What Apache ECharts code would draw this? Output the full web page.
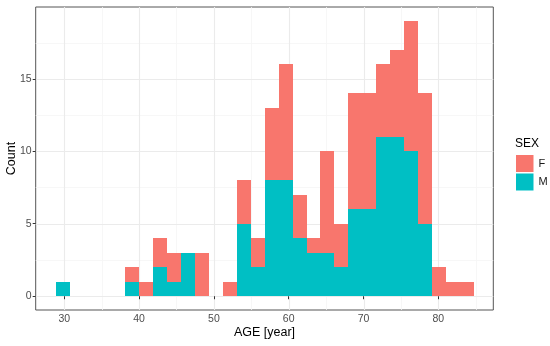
<!DOCTYPE html>
<html><head><meta charset="utf-8">
<script src="https://cdn.jsdelivr.net/npm/echarts@6/dist/echarts.min.js"></script>
<style>html,body{margin:0;padding:0;background:#fff}#c{width:550px;height:346px}</style>
</head><body><div id="c"></div>
<script>
// Histogram bin edges (AGE, years) – 30 bins
const binEdges = [28.86,30.72,32.58,34.45,36.31,38.17,40.03,41.89,43.76,45.62,47.48,49.34,51.20,53.07,54.93,56.79,58.65,60.52,62.38,64.24,66.10,67.96,69.83,71.69,73.55,75.41,77.28,79.14,81.00,82.86,84.72];
// Counts per bin
const countM = [1,0,0,0,0,1,0,2,1,3,0,0,0,5,2,8,8,4,3,3,2,6,6,11,11,10,5,0,0,0];
const countF = [0,0,0,0,0,1,1,2,2,0,3,0,1,3,2,5,8,3,1,7,3,8,8,5,6,9,9,2,1,1];
const xTicks = [30,40,50,60,70,80];
const xMinor = [35,45,55,65,75,85];
const yTicks = [0,5,10,15];
const yMinor = [2.5,7.5,12.5,17.5];
const seriesNames = ['F','M'];
const colF = '#F8766D', colM = '#00BFC4';

const X_MIN = 26.18, X_MAX = 87.35, Y_MIN = -0.95, Y_MAX = 19.95;

const mData = [], fData = [];
for (let i = 0; i < countM.length; i++) {
  if (countM[i] > 0) mData.push([binEdges[i], binEdges[i+1], 0, countM[i]]);
  if (countF[i] > 0) fData.push([binEdges[i], binEdges[i+1], countM[i], countM[i] + countF[i]]);
}
const gridData = [];
xMinor.forEach(v => gridData.push([0, v, 0]));
yMinor.forEach(v => gridData.push([1, v, 0]));
xTicks.forEach(v => gridData.push([0, v, 1]));
yTicks.forEach(v => gridData.push([1, v, 1]));

function rectItem(params, api) {
  const p0 = api.coord([api.value(0), api.value(2)]);
  const p1 = api.coord([api.value(1), api.value(3)]);
  const x0 = Math.round(p0[0]), x1 = Math.round(p1[0]);
  const yb = Math.round(p0[1]), yt = Math.round(p1[1]);
  return {
    type: 'rect',
    shape: { x: x0, y: yt, width: x1 - x0, height: yb - yt },
    style: api.style()
  };
}
function gridItem(params, api) {
  const cs = params.coordSys;
  const isY = api.value(0) === 1;
  const v = api.value(1);
  const major = api.value(2) === 1;
  let shape;
  if (isY) {
    const p = api.coord([X_MIN, v]);
    const y = Math.round(p[1]) + 0.5;
    shape = { x1: cs.x, y1: y, x2: cs.x + cs.width, y2: y };
  } else {
    const p = api.coord([v, Y_MIN]);
    const x = Math.round(p[0]) + 0.5;
    shape = { x1: x, y1: cs.y, x2: x, y2: cs.y + cs.height };
  }
  return { type: 'line', shape, style: { stroke: major ? '#EBEBEB' : '#F5F5F5', lineWidth: major ? 1.1 : 0.8 } };
}

const chart = echarts.init(document.getElementById('c'), null, { renderer: 'canvas' });
chart.setOption({
  animation: false,
  backgroundColor: '#fff',
  textStyle: { fontFamily: 'Liberation Sans, Arial, sans-serif' },
  title: { text: 'SEX', left: 510, top: 133, textStyle: { fontSize: 12, fontWeight: 'normal', color: '#000', fontFamily: 'Liberation Sans, Arial, sans-serif' } },
  legend: {
    data: seriesNames.map(n => ({ name: n, icon: 'rect' })),
    orient: 'vertical', left: 511, top: 150, itemWidth: 17.5, itemHeight: 17, itemGap: 1.5,
    textStyle: { fontSize: 11, color: '#1a1a1a' }, selectedMode: false
  },
  grid: { left: 35.7, right: 56.7, top: 7, bottom: 36, show: true, borderColor: '#555', borderWidth: 1, backgroundColor: '#fff', containLabel: false, outerBoundsMode: 'none' },
  xAxis: {
    type: 'value', min: X_MIN, max: X_MAX,
    name: 'AGE [year]', nameLocation: 'middle', nameGap: 16, nameMoveOverlap: false,
    nameTextStyle: { fontSize: 12.5, color: '#000', verticalAlign: 'top' },
    axisLine: { show: false },
    splitLine: { show: false },
    axisTick: { show: true, length: 3, lineStyle: { color: '#333' }, customValues: xTicks },
    axisLabel: { fontSize: 10.5, color: '#4D4D4D', margin: 4, customValues: xTicks, formatter: v => String(v) }
  },
  yAxis: {
    type: 'value', min: Y_MIN, max: Y_MAX,
    name: 'Count', nameLocation: 'middle', nameGap: 18, nameRotate: 90, nameMoveOverlap: false,
    nameTextStyle: { fontSize: 12.5, color: '#000' },
    axisLine: { show: false },
    splitLine: { show: false },
    axisTick: { show: true, length: 3, lineStyle: { color: '#333' }, customValues: yTicks },
    axisLabel: { fontSize: 10.5, color: '#4D4D4D', margin: 4, customValues: yTicks, formatter: v => String(v) }
  },
  series: [
    { name: 'grid', type: 'custom', renderItem: gridItem, data: gridData, silent: true, z: 0, encode: { x: 1, y: 1 }, clip: true },
    { name: 'M', type: 'custom', renderItem: rectItem, data: mData, itemStyle: { color: colM }, z: 2, encode: { x: [0, 1], y: [2, 3] } },
    { name: 'F', type: 'custom', renderItem: rectItem, data: fData, itemStyle: { color: colF }, z: 2, encode: { x: [0, 1], y: [2, 3] } }
  ]
});
</script></body></html>
